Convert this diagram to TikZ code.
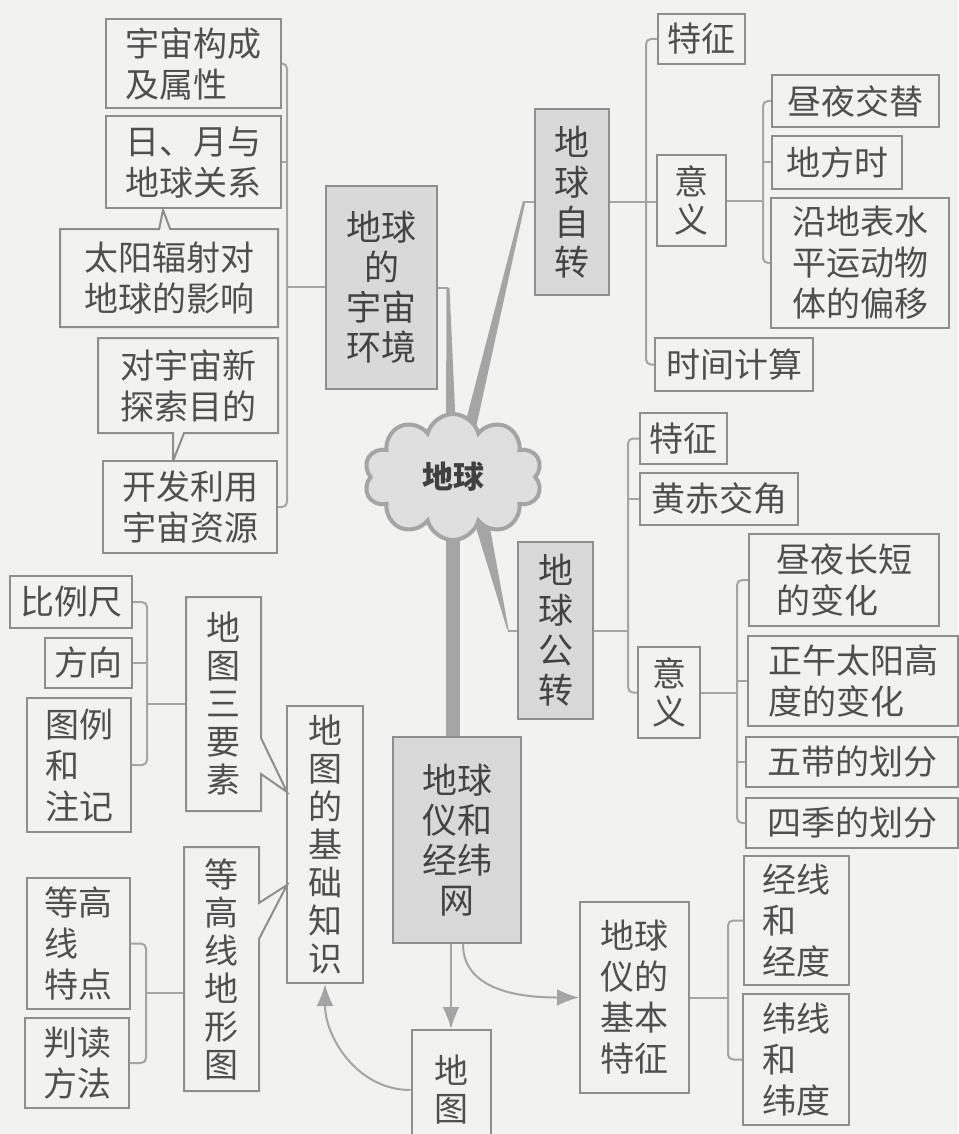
\documentclass[tikz,border=0pt]{standalone}
\usepackage{fontspec}
\setmainfont{Noto Sans CJK SC}
\usetikzlibrary{shapes.symbols,shapes.callouts,arrows.meta,calc}

\definecolor{bgc}{HTML}{F2F2F0}
\definecolor{linec}{HTML}{A5A5A5}
\definecolor{edgec}{HTML}{8E8E8E}
\definecolor{shadec}{HTML}{D9D9D9}
\definecolor{textc}{HTML}{4F4F4F}

\begin{document}
\begin{tikzpicture}[x=1pt,y=-1pt,
    box/.style={draw=edgec, line width=2pt, fill=bgc, text=textc, inner sep=0pt, align=left, font=\fontsize{34}{41}\selectfont},
    vbox/.style={box, align=center, font=\fontsize{34}{38}\selectfont},
    shade/.style={box, fill=shadec, align=center, text=textc!85!black, font=\fontsize{35}{40}\selectfont},
    bubble/.style={rectangle callout, callout pointer width=11pt},
    link/.style={draw=linec, line width=2pt, rounded corners=5pt},
    arr/.style={draw=linec, line width=2pt, -{Latex[length=22pt,width=17pt]}}]
        \useasboundingbox (0,0) rectangle (958,1134);
        \fill[bgc] (0,0) rectangle (958,1134);
        \node[box, minimum width=175pt, minimum height=89pt] (uA) at (193.5,63.5) {宇宙构成\\及属性};
        \node[box, minimum width=175pt, minimum height=92pt] (uB) at (193.5,162) {日、月与\\地球关系};
        \node[box, bubble, callout absolute pointer={(163,210)}, minimum width=218pt, minimum height=98pt] (uC) at (169,278) {太阳辐射对\\地球的影响};
        \node[box, bubble, callout absolute pointer={(173,461)}, minimum width=180pt, minimum height=95pt] (uD) at (188,385.5) {对宇宙新\\探索目的};
        \node[box, minimum width=174pt, minimum height=92pt] (uE) at (190,507) {开发利用\\宇宙资源};
        \node[shade, minimum width=111pt, minimum height=203pt] (g1) at (381.5,287.5) {地球\\的\\宇宙\\环境};
        \node[shade, minimum width=74pt, minimum height=186pt] (r1) at (572,202) {地\\球\\自\\转};
        \node[box, minimum width=87pt, minimum height=50pt] (rF) at (701.5,39) {特征};
        \node[vbox, minimum width=69pt, minimum height=91pt] (rM) at (691.5,200.5) {意\\义};
        \node[box, minimum width=158pt, minimum height=53pt] (rT) at (734,364.5) {时间计算};
        \node[box, minimum width=167pt, minimum height=52pt] (rM1) at (855.5,101) {昼夜交替};
        \node[box, minimum width=130pt, minimum height=53pt] (rM2) at (837,162.5) {地方时};
        \node[box, minimum width=178pt, minimum height=130pt] (rM3) at (860,263) {沿地表水\\平运动物\\体的偏移};
        \node[shade, minimum width=75pt, minimum height=177pt] (g3) at (555.5,630.5) {地\\球\\公\\转};
        \node[box, minimum width=87pt, minimum height=51pt] (sF) at (683.5,438.5) {特征};
        \node[box, minimum width=158pt, minimum height=52pt] (sH) at (719,499) {黄赤交角};
        \node[vbox, minimum width=62pt, minimum height=91pt] (sM) at (669,692.5) {意\\义};
        \node[box, minimum width=190pt, minimum height=92pt] (sM1) at (844,580) {昼夜长短\\的变化};
        \node[box, minimum width=210pt, minimum height=90pt] (sM2) at (853,681) {正午太阳高\\度的变化};
        \node[box, minimum width=212pt, minimum height=50pt] (sM3) at (852,762) {五带的划分};
        \node[box, minimum width=212pt, minimum height=50pt] (sM4) at (852,823) {四季的划分};
        \node[shade, minimum width=128pt, minimum height=206pt] (g4) at (457,840) {地球\\仪和\\经纬\\网};
        \node[box, minimum width=109pt, minimum height=191pt] (gl) at (634.5,997.5) {地球\\仪的\\基本\\特征};
        \node[box, minimum width=105pt, minimum height=129pt] (gl1) at (796.5,920.5) {经线\\和\\经度};
        \node[box, minimum width=106pt, minimum height=131pt] (gl2) at (796,1059.5) {纬线\\和\\纬度};
        \node[vbox, minimum width=79pt, minimum height=120pt] (mp) at (451,1090) {地\\图};
        \node[box, minimum width=122pt, minimum height=52pt] (lS) at (71,602) {比例尺};
        \node[box, minimum width=87pt, minimum height=50pt] (lD) at (88.5,663) {方向};
        \node[box, minimum width=104pt, minimum height=134pt] (lL) at (79,765) {图例\\和\\注记};
        \node[vbox, minimum width=76pt, minimum height=277pt] (bs) at (325,844.5) {地\\图\\的\\基\\础\\知\\识};
        \node[vbox, bubble, callout pointer width=36pt, callout absolute pointer={(287,792)}, minimum width=75pt, minimum height=214pt] (l3) at (223.5,704) {地\\图\\三\\要\\素};
        \node[vbox, bubble, callout pointer width=36pt, callout absolute pointer={(287,885)}, minimum width=75pt, minimum height=244pt] (lC) at (221.5,969) {等\\高\\线\\地\\形\\图};
        \node[box, minimum width=103pt, minimum height=131pt] (lC1) at (78.5,943.5) {等高\\线\\特点};
        \node[box, minimum width=104pt, minimum height=90pt] (lC2) at (77,1063) {判读\\方法};
        \coordinate (bu) at (287,287);
        \draw[link] (uA.east) -- (uA.east -| bu) -- (uE.east -| bu) -- (uE.east);
        \draw[link] (uB.east) -- (uB.east -| bu);
        \draw[link] (bu) -- (bu -| g1.west);
        \coordinate (br) at (646,202);
        \draw[link] (rF.west) -- (rF.west -| br) -- (rT.west -| br) -- (rT.west);
        \draw[link] (r1.east) -- (r1.east -| rM.west);
        \coordinate (bm) at (763,200);
        \draw[link] (rM1.west) -- (rM1.west -| bm) -- (rM3.west -| bm) -- (rM3.west);
        \draw[link] (rM2.west) -- (rM2.west -| bm);
        \draw[link] (rM.east) -- (rM.east -| bm);
        \coordinate (bs1) at (628,630);
        \draw[link] (sF.west) -- (sF.west -| bs1) -- (sM.west -| bs1) -- (sM.west);
        \draw[link] (sH.west) -- (sH.west -| bs1);
        \draw[link] (g3.east) -- (g3.east -| bs1);
        \coordinate (bs2) at (737,692);
        \draw[link] (sM1.west) -- (sM1.west -| bs2) -- (sM4.west -| bs2) -- (sM4.west);
        \draw[link] (sM2.west) -- (sM2.west -| bs2);
        \draw[link] (sM3.west) -- (sM3.west -| bs2);
        \draw[link] (sM.east) -- (sM.east -| bs2);
        \coordinate (bg) at (728,997);
        \draw[link] (gl1.west) -- (gl1.west -| bg) -- (gl2.west -| bg) -- (gl2.west);
        \draw[link] (gl.east) -- (gl.east -| bg);
        \coordinate (bl1) at (147,704);
        \draw[link] (lS.east) -- (lS.east -| bl1) -- (lL.east -| bl1) -- (lL.east);
        \draw[link] (lD.east) -- (lD.east -| bl1);
        \draw[link] (bl1) -- (bl1 -| l3.west);
        \coordinate (bl2) at (146,993);
        \draw[link] (lC1.east) -- (lC1.east -| bl2) -- (lC2.east -| bl2) -- (lC2.east);
        \draw[link] (bl2) -- (bl2 -| lC.west);
        \coordinate (c) at (453,477);
        \coordinate (t1) at ($(g1.east)+(10,0)$);
        \coordinate (t2) at ($(r1.west)+(-10,0)$);
        \coordinate (t3) at ($(g3.west)+(-9,0)$);
        \draw[link] (g1.east) -- (t1);
        \draw[link] (r1.west) -- (t2);
        \draw[link] (g3.west) -- (t3);
        \fill[linec] ($(t1)+(-1.5,0)$) -- ($(t1)+(1.5,0)$) -- ($(c)+(3,-45)$) -- ($(c)+(-7,-45)$) -- cycle;
        \fill[linec] ($(t2)+(-1,-1.5)$) -- ($(t2)+(1,1.5)$) -- ($(c)+(22,-45)$) -- ($(c)+(10,-45)$) -- cycle;
        \fill[linec] ($(t3)+(-1,-1.5)$) -- ($(t3)+(1,1.5)$) -- ($(c)+(35,40)$) -- ($(c)+(21,44)$) -- cycle;
        \draw[linec, line width=14pt] (c) -- (c |- g4.north);
        \node[cloud, cloud puffs=10, aspect=1.4, draw=linec, line width=4pt, fill=shadec!85!white, minimum width=178pt, minimum height=126pt, inner sep=0pt, text=black!75, font=\fontsize{31}{31}\selectfont\bfseries] (earth) at (c) {地球};
        \draw[arr] ($(g4.south)+(6,0)$) to[out=-90,in=180] (gl.west);
        \draw[arr] (g4.south -| mp.north) -- (mp.north);
        \draw[arr] (mp.west) to[out=180,in=-90] (bs.south);
    \end{tikzpicture}
\end{document}
